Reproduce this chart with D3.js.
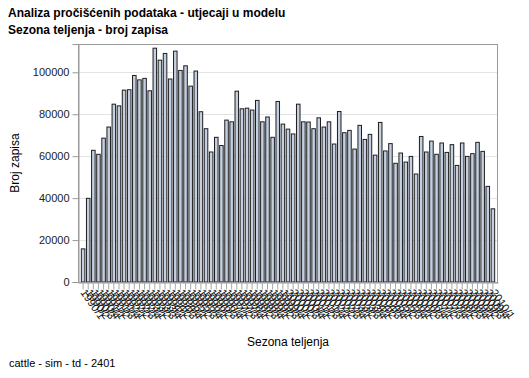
<!DOCTYPE html>
<html>
<head>
<meta charset="utf-8">
<script src="https://cdn.jsdelivr.net/npm/d3@7"></script>
<style>
  body { margin: 0; background: #fff; }
  svg { font-family: "Liberation Sans", Arial, sans-serif; }
</style>
</head>
<body>
<div id="chart"></div>
<script>
// seasons of calving (labels are unreadable in the source, so these are best guesses)
var seasons = [
  "1990/1","1990/2","1990/3","1990/4","1991/1","1991/2","1991/3","1991/4",
  "1992/1","1992/2","1992/3","1992/4","1993/1","1993/2","1993/3","1993/4",
  "1994/1","1994/2","1994/3","1994/4","1995/1","1995/2","1995/3","1995/4",
  "1996/1","1996/2","1996/3","1996/4","1997/1","1997/2","1997/3","1997/4",
  "1998/1","1998/2","1998/3","1998/4","1999/1","1999/2","1999/3","1999/4",
  "2000/1","2000/2","2000/3","2000/4","2001/1","2001/2","2001/3","2001/4",
  "2002/1","2002/2","2002/3","2002/4","2003/1","2003/2","2003/3","2003/4",
  "2004/1","2004/2","2004/3","2004/4","2005/1","2005/2","2005/3","2005/4",
  "2006/1","2006/2","2006/3","2006/4","2007/1","2007/2","2007/3","2007/4",
  "2008/1","2008/2","2008/3","2008/4","2009/1","2009/2","2009/3","2009/4",
  "2010/1"
];

var counts = [
  15800, 39900, 62800, 60900, 68600, 73900, 84800, 84000, 91500, 91700,
  98500, 96400, 97100, 91200, 111500, 105800, 109000, 96800, 110100, 100900,
  103100, 93400, 100600, 81200, 73100, 62000, 69000, 65100, 77200, 76400,
  91000, 82600, 82900, 82000, 86600, 76400, 78700, 69000, 86100, 75300,
  72900, 70600, 84800, 76400, 76300, 73100, 78300, 73900, 76400, 65800,
  81300, 71200, 72300, 63400, 74700, 68000, 70400, 60500, 76100, 62500,
  66000, 56600, 61500, 57200, 59900, 51500, 69400, 62000, 67200, 60900,
  66300, 61800, 65500, 55600, 66300, 59900, 61200, 66600, 62300, 45600,
  34900
];

var yTicks = [0, 20000, 40000, 60000, 80000, 100000];

var width = 529, height = 378;
var plotLeft = 78, plotRight = 498, plotTop = 44, plotBottom = 282;

var svg = d3.select("#chart").append("svg")
    .attr("width", width)
    .attr("height", height);

var x = d3.scaleBand()
    .domain(seasons)
    .range([plotLeft, plotRight])
    .paddingInner(0.31)
    .paddingOuter(0.65);

var y = d3.scaleLinear()
    .domain([0, 113500])
    .range([plotBottom, plotTop]);

// gridlines
svg.append("g")
    .selectAll("line")
    .data(yTicks.filter(function (d) { return d > 0; }))
    .enter()
    .append("line")
    .attr("x1", plotLeft)
    .attr("x2", plotRight)
    .attr("y1", function (d) { return Math.round(y(d)) + 0.5; })
    .attr("y2", function (d) { return Math.round(y(d)) + 0.5; })
    .attr("stroke", "#e3e3e3");

// bars
svg.append("g")
    .selectAll("rect")
    .data(counts)
    .enter()
    .append("rect")
    .attr("x", function (d, i) { return x(seasons[i]); })
    .attr("y", function (d) { return y(d); })
    .attr("width", x.bandwidth())
    .attr("height", function (d) { return plotBottom - y(d); })
    .attr("fill", "#c4d0e1")
    .attr("stroke", "#1e1e1e")
    .attr("stroke-width", 1);

// frame
svg.append("rect")
    .attr("x", plotLeft + 0.5)
    .attr("y", plotTop + 0.5)
    .attr("width", plotRight - plotLeft - 1)
    .attr("height", plotBottom - plotTop)
    .attr("fill", "none")
    .attr("stroke", "#9a9a9a");

// y axis
var yAxis = svg.append("g")
    .attr("transform", "translate(" + (plotLeft + 0.5) + ",0)")
    .call(d3.axisLeft(y).tickValues(yTicks).tickSize(6).tickFormat(d3.format("d")));
yAxis.select(".domain").attr("stroke", "#9a9a9a");
yAxis.selectAll(".tick line").attr("stroke", "#9a9a9a");
yAxis.selectAll(".tick text")
    .attr("font-size", 11)
    .attr("fill", "#222")
    .attr("font-family", "Liberation Sans, Arial, sans-serif");

// x axis
var xAxis = svg.append("g")
    .attr("transform", "translate(0," + (plotBottom + 0.5) + ")")
    .call(d3.axisBottom(x).tickSize(7).tickSizeOuter(0));
xAxis.select(".domain").attr("stroke", "#9a9a9a");
xAxis.selectAll(".tick line").attr("stroke", "#a8a8a8");
xAxis.selectAll(".tick text")
    .attr("font-size", 11)
    .attr("fill", "#111")
    .attr("font-family", "Liberation Sans, Arial, sans-serif")
    .attr("text-anchor", "start")
    .attr("dy", null)
    .attr("y", 0)
    .attr("transform", "translate(-3,10) rotate(55)");

// titles
svg.append("text")
    .attr("x", 8).attr("y", 17)
    .attr("font-size", 12).attr("font-weight", "bold")
    .text("Analiza pročišćenih podataka - utjecaji u modelu");

svg.append("text")
    .attr("x", 8).attr("y", 34)
    .attr("font-size", 12).attr("font-weight", "bold")
    .text("Sezona teljenja - broj zapisa");

svg.append("text")
    .attr("x", (plotLeft + plotRight) / 2).attr("y", 346)
    .attr("text-anchor", "middle")
    .attr("font-size", 12)
    .text("Sezona teljenja");

svg.append("text")
    .attr("transform", "translate(19," + ((plotTop + plotBottom) / 2) + ") rotate(-90)")
    .attr("text-anchor", "middle")
    .attr("font-size", 12)
    .text("Broj zapisa");

svg.append("text")
    .attr("x", 9).attr("y", 367)
    .attr("font-size", 11)
    .text("cattle - sim - td - 2401");
</script>
</body>
</html>
